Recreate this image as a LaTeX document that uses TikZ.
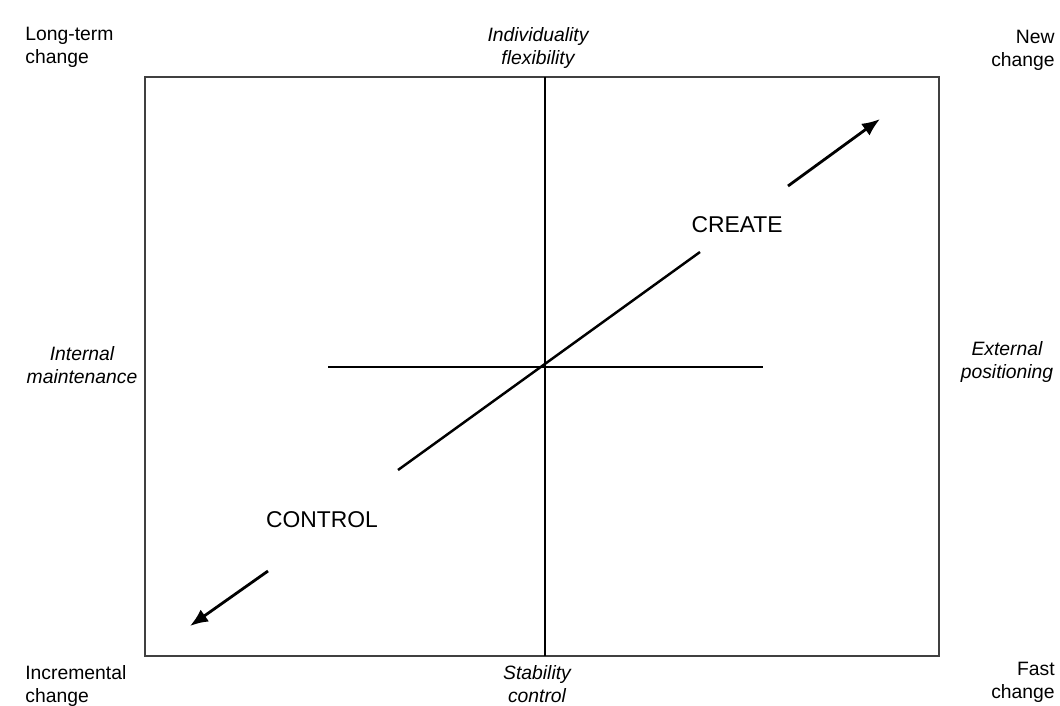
\documentclass[tikz,border=0pt]{standalone}
\usepackage{fontspec}
\setmainfont{Liberation Sans}
\usetikzlibrary{arrows.meta}
\tikzset{
  side/.style={inner sep=0pt,font=\fontsize{11}{13}\selectfont\itshape,align=center},
  corner/.style={inner sep=0pt,font=\fontsize{11}{13}\selectfont},
  axis/.style={black,line width=1.4pt},
  tip/.style={-{Latex[length=3.6mm,width=2.9mm]}}
}
\begin{document}
\begin{tikzpicture}
    \useasboundingbox (0,0) rectangle (21.2,14.1);
    % frame and axes
    \draw[black!75,line width=1.1pt] (2.9,0.98) rectangle (18.78,12.56);
    \coordinate (top) at (10.9,12.56);
    \coordinate (bot) at (10.9,0.98);
    \coordinate (west) at (6.56,6.76);
    \coordinate (east) at (15.26,6.76);
    \draw[axis] (top) -- (bot);
    \draw[axis] (west) -- (east);
    % diagonal with the two arrows
    \coordinate (dlo) at (7.96,4.70);
    \coordinate (dhi) at (14.0,9.06);
    \coordinate (uas) at (15.76,10.38);
    \coordinate (uat) at (17.6,11.72);
    \coordinate (las) at (5.36,2.68);
    \coordinate (lat) at (3.8,1.58);
    \draw[axis] (dlo) -- (dhi);
    \draw[axis,line width=1.6pt,tip] (uas) -- (uat);
    \draw[axis,line width=1.6pt,tip] (las) -- (lat);
    \node[font=\fontsize{13}{15}\selectfont] (create) at (14.74,9.6){CREATE};
    \node[font=\fontsize{13}{15}\selectfont] (control) at (6.44,3.7){CONTROL};
    % labels round the frame
    \node[corner,anchor=north west,align=left] (lt) at (0.5,13.56){Long-term\\change};
    \node[side,anchor=north] (flex) at (10.76,13.56){Individuality\\flexibility};
    \node[corner,anchor=north east,align=right] (nw) at (21.1,13.5){New\\change};
    \node[side] (int) at (1.64,6.8){Internal\\maintenance};
    \node[side] (ext) at (20.14,6.86){External\\positioning};
    \node[corner,anchor=north west,align=left] (inc) at (0.5,0.8){Incremental\\change};
    \node[side,anchor=north] (stab) at (10.74,0.8){Stability\\control};
    \node[corner,anchor=north east,align=right] (fast) at (21.1,0.86){Fast\\change};
  \end{tikzpicture}
\end{document}
